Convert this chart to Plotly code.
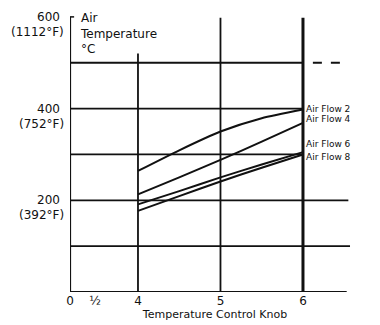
import plotly.graph_objects as go

# ---- data ----
knob = [4, 4.5, 5, 5.5, 6]
air_flow_2 = [264, 309, 350, 379, 398]
air_flow_4 = [213, 250, 288, 328, 369]
air_flow_6 = [191, 220, 250, 278, 305]
air_flow_8 = [177, 209, 241, 271, 300]
series_names = ["Air Flow 2", "Air Flow 4", "Air Flow 6", "Air Flow 8"]
label_y = [400, 378, 323, 294]

x_zero = 3.176          # where knob "0" sits on the broken axis
x_half = 3.48
x_tick_vals = [x_zero, x_half, 4, 5, 6]
x_tick_text = ["0", "½", "4", "5", "6"]

y_tick_vals = [600, 400, 200]
y_tick_f = ["(1112°F)", "(752°F)", "(392°F)"]

INK = "#111111"
FONT = "DejaVu Sans"

fig = go.Figure()
for name, ys in zip(series_names, [air_flow_2, air_flow_4, air_flow_6, air_flow_8]):
    fig.add_trace(go.Scatter(x=knob, y=ys, mode="lines", name=name,
                             line=dict(color=INK, width=2, shape="spline", smoothing=0.6),
                             showlegend=False, hoverinfo="skip"))

shapes = []
def hline(y, x0, x1, w=1.8, dash="solid"):
    shapes.append(dict(type="line", xref="x", yref="y", x0=x0, x1=x1, y0=y, y1=y,
                       line=dict(color=INK, width=w, dash=dash)))
def vline(x, y0, y1, w=1.8):
    shapes.append(dict(type="line", xref="x", yref="y", x0=x, x1=x, y0=y0, y1=y1,
                       line=dict(color=INK, width=w)))

hline(0, x_zero, 6.53)
hline(100, x_zero, 6.57)
hline(200, x_zero, 6.55)
hline(300, x_zero, 6.0)
hline(400, x_zero, 6.0)
hline(500, x_zero, 6.0)
hline(500, 6.12, 6.53, dash="dash")
hline(600, x_zero, x_zero + 0.05, w=1.5)
vline(x_zero, -2, 600, w=2.2)
vline(4, -12, 520)
vline(5, -4, 598)
vline(6, -4, 598, w=3)

annotations = []
for v, f in zip(y_tick_vals, y_tick_f):
    annotations.append(dict(xref="paper", yref="y", x=0, y=v, xshift=-8, text=str(v),
                            showarrow=False, xanchor="right", yanchor="middle",
                            font=dict(family=FONT, size=12, color=INK)))
    annotations.append(dict(xref="paper", yref="y", x=0, y=v, xshift=-4, yshift=-15, text=f,
                            showarrow=False, xanchor="right", yanchor="middle",
                            font=dict(family=FONT, size=12, color=INK)))

for name, ly in zip(series_names, label_y):
    annotations.append(dict(xref="x", yref="y", x=6.0, y=ly, xshift=1, text=name,
                            showarrow=False, xanchor="left", yanchor="middle",
                            font=dict(family=FONT, size=9, color=INK)))

annotations.append(dict(xref="x", yref="y", x=x_zero, y=600, xshift=8, yshift=8,
                        text="Air<br>Temperature<br>°C", align="left",
                        showarrow=False, xanchor="left", yanchor="top",
                        font=dict(family=FONT, size=12, color=INK)))

# the page body adds an 8px offset, so the figure is drawn 8px smaller and shifted
fig.update_layout(
    width=372, height=317,
    margin=dict(l=62, r=20, t=2, b=33),
    paper_bgcolor="white", plot_bgcolor="white",
    shapes=shapes, annotations=annotations,
    xaxis=dict(range=[x_zero, x_zero + 290 / 82.5], showgrid=False, zeroline=False,
               showline=False, tickvals=x_tick_vals, ticktext=x_tick_text, ticks="",
               tickfont=dict(family=FONT, size=12, color=INK),
               title=dict(text="Temperature Control Knob", standoff=3,
                          font=dict(family=FONT, size=11, color=INK))),
    yaxis=dict(range=[0, 615], showgrid=False, zeroline=False, showline=False,
               showticklabels=False, ticks=""),
)

fig.write_html("out.html")
